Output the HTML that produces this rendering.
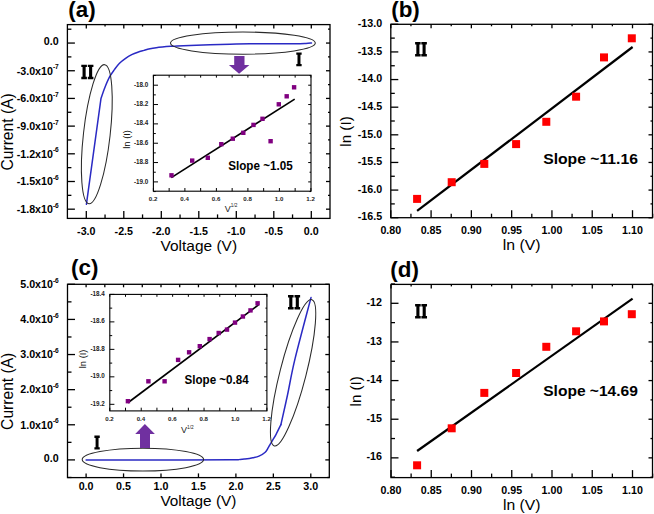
<!DOCTYPE html>
<html><head><meta charset="utf-8"><style>
html,body{margin:0;padding:0;background:#fff;width:654px;height:514px;overflow:hidden}
svg{display:block}
</style></head><body>
<svg width="654" height="514" viewBox="0 0 654 514">
<rect width="654" height="514" fill="#fff"/>
<rect x="67.4" y="24.6" width="262.6" height="193.8" fill="none" stroke="#000" stroke-width="1.3"/>
<line x1="86.3" y1="218.4" x2="86.3" y2="210.9" stroke="#000" stroke-width="1.3"/>
<line x1="86.3" y1="24.6" x2="86.3" y2="28.6" stroke="#000" stroke-width="1.3"/>
<line x1="123.8" y1="218.4" x2="123.8" y2="210.9" stroke="#000" stroke-width="1.3"/>
<line x1="123.8" y1="24.6" x2="123.8" y2="28.6" stroke="#000" stroke-width="1.3"/>
<line x1="161.3" y1="218.4" x2="161.3" y2="210.9" stroke="#000" stroke-width="1.3"/>
<line x1="161.3" y1="24.6" x2="161.3" y2="28.6" stroke="#000" stroke-width="1.3"/>
<line x1="198.8" y1="218.4" x2="198.8" y2="210.9" stroke="#000" stroke-width="1.3"/>
<line x1="198.8" y1="24.6" x2="198.8" y2="28.6" stroke="#000" stroke-width="1.3"/>
<line x1="236.3" y1="218.4" x2="236.3" y2="210.9" stroke="#000" stroke-width="1.3"/>
<line x1="236.3" y1="24.6" x2="236.3" y2="28.6" stroke="#000" stroke-width="1.3"/>
<line x1="273.8" y1="218.4" x2="273.8" y2="210.9" stroke="#000" stroke-width="1.3"/>
<line x1="273.8" y1="24.6" x2="273.8" y2="28.6" stroke="#000" stroke-width="1.3"/>
<line x1="311.3" y1="218.4" x2="311.3" y2="210.9" stroke="#000" stroke-width="1.3"/>
<line x1="311.3" y1="24.6" x2="311.3" y2="28.6" stroke="#000" stroke-width="1.3"/>
<line x1="105.05" y1="218.4" x2="105.05" y2="214.4" stroke="#000" stroke-width="1.3"/>
<line x1="105.05" y1="24.6" x2="105.05" y2="26.6" stroke="#000" stroke-width="1.3"/>
<line x1="142.55" y1="218.4" x2="142.55" y2="214.4" stroke="#000" stroke-width="1.3"/>
<line x1="142.55" y1="24.6" x2="142.55" y2="26.6" stroke="#000" stroke-width="1.3"/>
<line x1="180.05" y1="218.4" x2="180.05" y2="214.4" stroke="#000" stroke-width="1.3"/>
<line x1="180.05" y1="24.6" x2="180.05" y2="26.6" stroke="#000" stroke-width="1.3"/>
<line x1="217.55" y1="218.4" x2="217.55" y2="214.4" stroke="#000" stroke-width="1.3"/>
<line x1="217.55" y1="24.6" x2="217.55" y2="26.6" stroke="#000" stroke-width="1.3"/>
<line x1="255.05" y1="218.4" x2="255.05" y2="214.4" stroke="#000" stroke-width="1.3"/>
<line x1="255.05" y1="24.6" x2="255.05" y2="26.6" stroke="#000" stroke-width="1.3"/>
<line x1="292.55" y1="218.4" x2="292.55" y2="214.4" stroke="#000" stroke-width="1.3"/>
<line x1="292.55" y1="24.6" x2="292.55" y2="26.6" stroke="#000" stroke-width="1.3"/>
<line x1="67.4" y1="43.06" x2="74.9" y2="43.06" stroke="#000" stroke-width="1.3"/>
<line x1="330" y1="43.06" x2="326" y2="43.06" stroke="#000" stroke-width="1.3"/>
<line x1="67.4" y1="70.75" x2="74.9" y2="70.75" stroke="#000" stroke-width="1.3"/>
<line x1="330" y1="70.75" x2="326" y2="70.75" stroke="#000" stroke-width="1.3"/>
<line x1="67.4" y1="98.43" x2="74.9" y2="98.43" stroke="#000" stroke-width="1.3"/>
<line x1="330" y1="98.43" x2="326" y2="98.43" stroke="#000" stroke-width="1.3"/>
<line x1="67.4" y1="126.12" x2="74.9" y2="126.12" stroke="#000" stroke-width="1.3"/>
<line x1="330" y1="126.12" x2="326" y2="126.12" stroke="#000" stroke-width="1.3"/>
<line x1="67.4" y1="153.81" x2="74.9" y2="153.81" stroke="#000" stroke-width="1.3"/>
<line x1="330" y1="153.81" x2="326" y2="153.81" stroke="#000" stroke-width="1.3"/>
<line x1="67.4" y1="181.5" x2="74.9" y2="181.5" stroke="#000" stroke-width="1.3"/>
<line x1="330" y1="181.5" x2="326" y2="181.5" stroke="#000" stroke-width="1.3"/>
<line x1="67.4" y1="209.18" x2="74.9" y2="209.18" stroke="#000" stroke-width="1.3"/>
<line x1="330" y1="209.18" x2="326" y2="209.18" stroke="#000" stroke-width="1.3"/>
<line x1="67.4" y1="29.22" x2="71.4" y2="29.22" stroke="#000" stroke-width="1.3"/>
<line x1="330" y1="29.22" x2="328" y2="29.22" stroke="#000" stroke-width="1.3"/>
<line x1="67.4" y1="56.9" x2="71.4" y2="56.9" stroke="#000" stroke-width="1.3"/>
<line x1="330" y1="56.9" x2="328" y2="56.9" stroke="#000" stroke-width="1.3"/>
<line x1="67.4" y1="84.59" x2="71.4" y2="84.59" stroke="#000" stroke-width="1.3"/>
<line x1="330" y1="84.59" x2="328" y2="84.59" stroke="#000" stroke-width="1.3"/>
<line x1="67.4" y1="112.28" x2="71.4" y2="112.28" stroke="#000" stroke-width="1.3"/>
<line x1="330" y1="112.28" x2="328" y2="112.28" stroke="#000" stroke-width="1.3"/>
<line x1="67.4" y1="139.96" x2="71.4" y2="139.96" stroke="#000" stroke-width="1.3"/>
<line x1="330" y1="139.96" x2="328" y2="139.96" stroke="#000" stroke-width="1.3"/>
<line x1="67.4" y1="167.65" x2="71.4" y2="167.65" stroke="#000" stroke-width="1.3"/>
<line x1="330" y1="167.65" x2="328" y2="167.65" stroke="#000" stroke-width="1.3"/>
<line x1="67.4" y1="195.34" x2="71.4" y2="195.34" stroke="#000" stroke-width="1.3"/>
<line x1="330" y1="195.34" x2="328" y2="195.34" stroke="#000" stroke-width="1.3"/>
<text x="58.6" y="45.06" font-size="10.7" font-family='"Liberation Sans", sans-serif' font-weight="bold" text-anchor="end" fill="#000" >0.0</text>
<text x="58.8" y="74.55" font-size="10.7" font-family='"Liberation Sans", sans-serif' font-weight="bold" text-anchor="end">-3.0x10<tspan font-size="6.6" dy="-5.3">-7</tspan></text>
<text x="58.8" y="102.23" font-size="10.7" font-family='"Liberation Sans", sans-serif' font-weight="bold" text-anchor="end">-6.0x10<tspan font-size="6.6" dy="-5.3">-7</tspan></text>
<text x="58.8" y="129.92" font-size="10.7" font-family='"Liberation Sans", sans-serif' font-weight="bold" text-anchor="end">-9.0x10<tspan font-size="6.6" dy="-5.3">-7</tspan></text>
<text x="58.8" y="157.61" font-size="10.7" font-family='"Liberation Sans", sans-serif' font-weight="bold" text-anchor="end">-1.2x10<tspan font-size="6.6" dy="-5.3">-6</tspan></text>
<text x="58.8" y="185.3" font-size="10.7" font-family='"Liberation Sans", sans-serif' font-weight="bold" text-anchor="end">-1.5x10<tspan font-size="6.6" dy="-5.3">-6</tspan></text>
<text x="58.8" y="212.98" font-size="10.7" font-family='"Liberation Sans", sans-serif' font-weight="bold" text-anchor="end">-1.8x10<tspan font-size="6.6" dy="-5.3">-6</tspan></text>
<text x="86.3" y="234.7" font-size="10.7" font-family='"Liberation Sans", sans-serif' font-weight="bold" text-anchor="middle" fill="#000" >-3.0</text>
<text x="123.8" y="234.7" font-size="10.7" font-family='"Liberation Sans", sans-serif' font-weight="bold" text-anchor="middle" fill="#000" >-2.5</text>
<text x="161.3" y="234.7" font-size="10.7" font-family='"Liberation Sans", sans-serif' font-weight="bold" text-anchor="middle" fill="#000" >-2.0</text>
<text x="198.8" y="234.7" font-size="10.7" font-family='"Liberation Sans", sans-serif' font-weight="bold" text-anchor="middle" fill="#000" >-1.5</text>
<text x="236.3" y="234.7" font-size="10.7" font-family='"Liberation Sans", sans-serif' font-weight="bold" text-anchor="middle" fill="#000" >-1.0</text>
<text x="273.8" y="234.7" font-size="10.7" font-family='"Liberation Sans", sans-serif' font-weight="bold" text-anchor="middle" fill="#000" >-0.5</text>
<text x="311.3" y="234.7" font-size="10.7" font-family='"Liberation Sans", sans-serif' font-weight="bold" text-anchor="middle" fill="#000" >0.0</text>
<text x="198.8" y="251" font-size="15.4" font-family='"Liberation Sans", sans-serif' text-anchor="middle" fill="#000" textLength="76.5" lengthAdjust="spacingAndGlyphs">Voltage (V)</text>
<text transform="translate(12.6,131.9) rotate(-90)" font-size="16" font-family='"Liberation Sans", sans-serif' text-anchor="middle" textLength="77.2" lengthAdjust="spacingAndGlyphs">Current (A)</text>
<text x="68.3" y="16.9" font-size="22.4" font-family='"Liberation Sans", sans-serif' font-weight="bold" text-anchor="start" fill="#000" >(a)</text>
<path d="M86.4,204.3L101,98.4C101.63,96.62 103.35,91.32 104.8,87.7C106.25,84.08 108.07,79.75 109.7,76.7C111.33,73.65 112.97,71.65 114.6,69.4C116.23,67.15 117.67,65.05 119.5,63.2C121.33,61.35 123.57,59.72 125.6,58.3C127.63,56.88 129.67,55.72 131.7,54.7C133.73,53.68 135.77,52.92 137.8,52.2C139.83,51.48 141.87,50.97 143.9,50.4C145.93,49.83 147.95,49.25 150,48.8C152.05,48.35 154.15,48 156.2,47.7C158.25,47.4 159.87,47.23 162.3,47C164.73,46.77 168.32,46.48 170.8,46.3C173.28,46.12 174,46.05 177.2,45.9C180.4,45.75 184.53,45.58 190,45.4C195.47,45.22 203.33,44.98 210,44.8C216.67,44.62 223.33,44.47 230,44.3C236.67,44.13 242.5,43.9 250,43.8C257.5,43.7 266.67,43.73 275,43.7C283.33,43.68 294.83,43.7 300,43.65C305.17,43.6 304.08,43.51 306,43.4C307.92,43.29 310.58,43.07 311.5,43" fill="none" stroke="#2a2ac4" stroke-width="1.5" stroke-linejoin="round" stroke-linecap="round"/>
<ellipse cx="242.9" cy="43.1" rx="72.4" ry="11.1" fill="none" stroke="#2a2a2a" stroke-width="1.05"/>
<ellipse cx="96.81" cy="134.2" rx="13.34" ry="69.99" transform="rotate(6.46 96.81 134.2)" fill="none" stroke="#2a2a2a" stroke-width="1.05"/>
<path d="M81.3,64.7h5.61v2.39h-1.25v9.71h1.25v2.39h-5.61v-2.39h1.25v-9.71h-1.25z M87.81,64.7h5.61v2.39h-1.25v9.71h1.25v2.39h-5.61v-2.39h1.25v-9.71h-1.25z" fill="#000"/>
<path d="M296.3,52.4h5.34v2.28h-1.19v9.25h1.19v2.28h-5.34v-2.28h1.19v-9.25h-1.19z" fill="#000"/>
<path d="M234.2,56.1H244.5V65H249.4L239.1,73.7L228.9,65H234.2Z" fill="#7030a0" stroke="none" stroke-width="1"/>
<rect x="153.4" y="75.2" width="157.6" height="116" fill="#fff" stroke="none"/>
<rect x="153.4" y="75.2" width="157.6" height="116" fill="none" stroke="#000" stroke-width="1.1"/>
<line x1="153.4" y1="191.2" x2="153.4" y2="188" stroke="#000" stroke-width="1.0"/>
<line x1="153.4" y1="75.2" x2="153.4" y2="77.6" stroke="#000" stroke-width="1.0"/>
<line x1="184.9" y1="191.2" x2="184.9" y2="188" stroke="#000" stroke-width="1.0"/>
<line x1="184.9" y1="75.2" x2="184.9" y2="77.6" stroke="#000" stroke-width="1.0"/>
<line x1="216.4" y1="191.2" x2="216.4" y2="188" stroke="#000" stroke-width="1.0"/>
<line x1="216.4" y1="75.2" x2="216.4" y2="77.6" stroke="#000" stroke-width="1.0"/>
<line x1="247.9" y1="191.2" x2="247.9" y2="188" stroke="#000" stroke-width="1.0"/>
<line x1="247.9" y1="75.2" x2="247.9" y2="77.6" stroke="#000" stroke-width="1.0"/>
<line x1="279.4" y1="191.2" x2="279.4" y2="188" stroke="#000" stroke-width="1.0"/>
<line x1="279.4" y1="75.2" x2="279.4" y2="77.6" stroke="#000" stroke-width="1.0"/>
<line x1="310.9" y1="191.2" x2="310.9" y2="188" stroke="#000" stroke-width="1.0"/>
<line x1="310.9" y1="75.2" x2="310.9" y2="77.6" stroke="#000" stroke-width="1.0"/>
<line x1="169.15" y1="191.2" x2="169.15" y2="188" stroke="#000" stroke-width="1.0"/>
<line x1="169.15" y1="75.2" x2="169.15" y2="77.6" stroke="#000" stroke-width="1.0"/>
<line x1="200.65" y1="191.2" x2="200.65" y2="188" stroke="#000" stroke-width="1.0"/>
<line x1="200.65" y1="75.2" x2="200.65" y2="77.6" stroke="#000" stroke-width="1.0"/>
<line x1="232.15" y1="191.2" x2="232.15" y2="188" stroke="#000" stroke-width="1.0"/>
<line x1="232.15" y1="75.2" x2="232.15" y2="77.6" stroke="#000" stroke-width="1.0"/>
<line x1="263.65" y1="191.2" x2="263.65" y2="188" stroke="#000" stroke-width="1.0"/>
<line x1="263.65" y1="75.2" x2="263.65" y2="77.6" stroke="#000" stroke-width="1.0"/>
<line x1="295.15" y1="191.2" x2="295.15" y2="188" stroke="#000" stroke-width="1.0"/>
<line x1="295.15" y1="75.2" x2="295.15" y2="77.6" stroke="#000" stroke-width="1.0"/>
<line x1="153.4" y1="85.2" x2="158" y2="85.2" stroke="#000" stroke-width="1.0"/>
<line x1="311" y1="85.2" x2="308.2" y2="85.2" stroke="#000" stroke-width="1.0"/>
<line x1="153.4" y1="104.54" x2="158" y2="104.54" stroke="#000" stroke-width="1.0"/>
<line x1="311" y1="104.54" x2="308.2" y2="104.54" stroke="#000" stroke-width="1.0"/>
<line x1="153.4" y1="123.88" x2="158" y2="123.88" stroke="#000" stroke-width="1.0"/>
<line x1="311" y1="123.88" x2="308.2" y2="123.88" stroke="#000" stroke-width="1.0"/>
<line x1="153.4" y1="143.22" x2="158" y2="143.22" stroke="#000" stroke-width="1.0"/>
<line x1="311" y1="143.22" x2="308.2" y2="143.22" stroke="#000" stroke-width="1.0"/>
<line x1="153.4" y1="162.56" x2="158" y2="162.56" stroke="#000" stroke-width="1.0"/>
<line x1="311" y1="162.56" x2="308.2" y2="162.56" stroke="#000" stroke-width="1.0"/>
<line x1="153.4" y1="181.9" x2="158" y2="181.9" stroke="#000" stroke-width="1.0"/>
<line x1="311" y1="181.9" x2="308.2" y2="181.9" stroke="#000" stroke-width="1.0"/>
<line x1="153.4" y1="75.53" x2="155.8" y2="75.53" stroke="#000" stroke-width="1.0"/>
<line x1="311" y1="75.53" x2="309.5" y2="75.53" stroke="#000" stroke-width="1.0"/>
<line x1="153.4" y1="94.87" x2="155.8" y2="94.87" stroke="#000" stroke-width="1.0"/>
<line x1="311" y1="94.87" x2="309.5" y2="94.87" stroke="#000" stroke-width="1.0"/>
<line x1="153.4" y1="114.21" x2="155.8" y2="114.21" stroke="#000" stroke-width="1.0"/>
<line x1="311" y1="114.21" x2="309.5" y2="114.21" stroke="#000" stroke-width="1.0"/>
<line x1="153.4" y1="133.55" x2="155.8" y2="133.55" stroke="#000" stroke-width="1.0"/>
<line x1="311" y1="133.55" x2="309.5" y2="133.55" stroke="#000" stroke-width="1.0"/>
<line x1="153.4" y1="152.89" x2="155.8" y2="152.89" stroke="#000" stroke-width="1.0"/>
<line x1="311" y1="152.89" x2="309.5" y2="152.89" stroke="#000" stroke-width="1.0"/>
<line x1="153.4" y1="172.23" x2="155.8" y2="172.23" stroke="#000" stroke-width="1.0"/>
<line x1="311" y1="172.23" x2="309.5" y2="172.23" stroke="#000" stroke-width="1.0"/>
<line x1="153.4" y1="191.57" x2="155.8" y2="191.57" stroke="#000" stroke-width="1.0"/>
<line x1="311" y1="191.57" x2="309.5" y2="191.57" stroke="#000" stroke-width="1.0"/>
<text x="148.3" y="86.8" font-size="6.3" font-family='"Liberation Sans", sans-serif' font-weight="bold" text-anchor="end" fill="#222" >-18.0</text>
<text x="148.3" y="106.14" font-size="6.3" font-family='"Liberation Sans", sans-serif' font-weight="bold" text-anchor="end" fill="#222" >-18.2</text>
<text x="148.3" y="125.48" font-size="6.3" font-family='"Liberation Sans", sans-serif' font-weight="bold" text-anchor="end" fill="#222" >-18.4</text>
<text x="148.3" y="144.82" font-size="6.3" font-family='"Liberation Sans", sans-serif' font-weight="bold" text-anchor="end" fill="#222" >-18.6</text>
<text x="148.3" y="164.16" font-size="6.3" font-family='"Liberation Sans", sans-serif' font-weight="bold" text-anchor="end" fill="#222" >-18.8</text>
<text x="148.3" y="183.5" font-size="6.3" font-family='"Liberation Sans", sans-serif' font-weight="bold" text-anchor="end" fill="#222" >-19.0</text>
<text x="153.1" y="200.9" font-size="6.1" font-family='"Liberation Sans", sans-serif' font-weight="bold" text-anchor="middle" fill="#222" >0.2</text>
<text x="184.6" y="200.9" font-size="6.1" font-family='"Liberation Sans", sans-serif' font-weight="bold" text-anchor="middle" fill="#222" >0.4</text>
<text x="216.1" y="200.9" font-size="6.1" font-family='"Liberation Sans", sans-serif' font-weight="bold" text-anchor="middle" fill="#222" >0.6</text>
<text x="247.6" y="200.9" font-size="6.1" font-family='"Liberation Sans", sans-serif' font-weight="bold" text-anchor="middle" fill="#222" >0.8</text>
<text x="279.1" y="200.9" font-size="6.1" font-family='"Liberation Sans", sans-serif' font-weight="bold" text-anchor="middle" fill="#222" >1.0</text>
<text x="310.6" y="200.9" font-size="6.1" font-family='"Liberation Sans", sans-serif' font-weight="bold" text-anchor="middle" fill="#222" >1.2</text>
<text transform="translate(130.1,139.4) rotate(-90)" font-size="9.4" font-family='"Liberation Sans", sans-serif' text-anchor="middle" fill="#000">ln (I)</text>
<text x="224.8" y="212" font-size="9" font-family='"Liberation Sans", sans-serif' fill="#222">V<tspan font-size="4.8" dy="-4.6">1/2</tspan></text>
<line x1="171.3" y1="177.6" x2="294.7" y2="99.1" stroke="#000" stroke-width="1.7"/>
<rect x="169.3" y="173.1" width="4.4" height="4.4" fill="#800080"/>
<rect x="190" y="158.4" width="4.4" height="4.4" fill="#800080"/>
<rect x="205.6" y="155.6" width="4.4" height="4.4" fill="#800080"/>
<rect x="219.1" y="142" width="4.4" height="4.4" fill="#800080"/>
<rect x="230.6" y="136.5" width="4.4" height="4.4" fill="#800080"/>
<rect x="241.1" y="130.6" width="4.4" height="4.4" fill="#800080"/>
<rect x="251.3" y="122.7" width="4.4" height="4.4" fill="#800080"/>
<rect x="260.3" y="116.6" width="4.4" height="4.4" fill="#800080"/>
<rect x="268.4" y="139" width="4.4" height="4.4" fill="#800080"/>
<rect x="276.6" y="102.1" width="4.4" height="4.4" fill="#800080"/>
<rect x="284.5" y="94.1" width="4.4" height="4.4" fill="#800080"/>
<rect x="291.9" y="85.1" width="4.4" height="4.4" fill="#800080"/>
<text x="228.2" y="170.2" font-size="12" font-family='"Liberation Sans", sans-serif' font-weight="bold" text-anchor="start" fill="#000" textLength="64.5" lengthAdjust="spacingAndGlyphs">Slope ~1.05</text>
<rect x="390.8" y="24.3" width="261.7" height="193.4" fill="none" stroke="#000" stroke-width="1.3"/>
<line x1="390.8" y1="217.7" x2="390.8" y2="210.2" stroke="#000" stroke-width="1.3"/>
<line x1="390.8" y1="24.3" x2="390.8" y2="28.3" stroke="#000" stroke-width="1.3"/>
<line x1="431.09" y1="217.7" x2="431.09" y2="210.2" stroke="#000" stroke-width="1.3"/>
<line x1="431.09" y1="24.3" x2="431.09" y2="28.3" stroke="#000" stroke-width="1.3"/>
<line x1="471.37" y1="217.7" x2="471.37" y2="210.2" stroke="#000" stroke-width="1.3"/>
<line x1="471.37" y1="24.3" x2="471.37" y2="28.3" stroke="#000" stroke-width="1.3"/>
<line x1="511.66" y1="217.7" x2="511.66" y2="210.2" stroke="#000" stroke-width="1.3"/>
<line x1="511.66" y1="24.3" x2="511.66" y2="28.3" stroke="#000" stroke-width="1.3"/>
<line x1="551.94" y1="217.7" x2="551.94" y2="210.2" stroke="#000" stroke-width="1.3"/>
<line x1="551.94" y1="24.3" x2="551.94" y2="28.3" stroke="#000" stroke-width="1.3"/>
<line x1="592.23" y1="217.7" x2="592.23" y2="210.2" stroke="#000" stroke-width="1.3"/>
<line x1="592.23" y1="24.3" x2="592.23" y2="28.3" stroke="#000" stroke-width="1.3"/>
<line x1="632.51" y1="217.7" x2="632.51" y2="210.2" stroke="#000" stroke-width="1.3"/>
<line x1="632.51" y1="24.3" x2="632.51" y2="28.3" stroke="#000" stroke-width="1.3"/>
<line x1="410.94" y1="217.7" x2="410.94" y2="213.7" stroke="#000" stroke-width="1.3"/>
<line x1="410.94" y1="24.3" x2="410.94" y2="26.3" stroke="#000" stroke-width="1.3"/>
<line x1="451.23" y1="217.7" x2="451.23" y2="213.7" stroke="#000" stroke-width="1.3"/>
<line x1="451.23" y1="24.3" x2="451.23" y2="26.3" stroke="#000" stroke-width="1.3"/>
<line x1="491.51" y1="217.7" x2="491.51" y2="213.7" stroke="#000" stroke-width="1.3"/>
<line x1="491.51" y1="24.3" x2="491.51" y2="26.3" stroke="#000" stroke-width="1.3"/>
<line x1="531.8" y1="217.7" x2="531.8" y2="213.7" stroke="#000" stroke-width="1.3"/>
<line x1="531.8" y1="24.3" x2="531.8" y2="26.3" stroke="#000" stroke-width="1.3"/>
<line x1="572.08" y1="217.7" x2="572.08" y2="213.7" stroke="#000" stroke-width="1.3"/>
<line x1="572.08" y1="24.3" x2="572.08" y2="26.3" stroke="#000" stroke-width="1.3"/>
<line x1="612.37" y1="217.7" x2="612.37" y2="213.7" stroke="#000" stroke-width="1.3"/>
<line x1="612.37" y1="24.3" x2="612.37" y2="26.3" stroke="#000" stroke-width="1.3"/>
<line x1="652.65" y1="217.7" x2="652.65" y2="213.7" stroke="#000" stroke-width="1.3"/>
<line x1="652.65" y1="24.3" x2="652.65" y2="26.3" stroke="#000" stroke-width="1.3"/>
<line x1="390.8" y1="24.3" x2="398.3" y2="24.3" stroke="#000" stroke-width="1.3"/>
<line x1="652.5" y1="24.3" x2="648.5" y2="24.3" stroke="#000" stroke-width="1.3"/>
<line x1="390.8" y1="51.93" x2="398.3" y2="51.93" stroke="#000" stroke-width="1.3"/>
<line x1="652.5" y1="51.93" x2="648.5" y2="51.93" stroke="#000" stroke-width="1.3"/>
<line x1="390.8" y1="79.56" x2="398.3" y2="79.56" stroke="#000" stroke-width="1.3"/>
<line x1="652.5" y1="79.56" x2="648.5" y2="79.56" stroke="#000" stroke-width="1.3"/>
<line x1="390.8" y1="107.19" x2="398.3" y2="107.19" stroke="#000" stroke-width="1.3"/>
<line x1="652.5" y1="107.19" x2="648.5" y2="107.19" stroke="#000" stroke-width="1.3"/>
<line x1="390.8" y1="134.82" x2="398.3" y2="134.82" stroke="#000" stroke-width="1.3"/>
<line x1="652.5" y1="134.82" x2="648.5" y2="134.82" stroke="#000" stroke-width="1.3"/>
<line x1="390.8" y1="162.45" x2="398.3" y2="162.45" stroke="#000" stroke-width="1.3"/>
<line x1="652.5" y1="162.45" x2="648.5" y2="162.45" stroke="#000" stroke-width="1.3"/>
<line x1="390.8" y1="190.08" x2="398.3" y2="190.08" stroke="#000" stroke-width="1.3"/>
<line x1="652.5" y1="190.08" x2="648.5" y2="190.08" stroke="#000" stroke-width="1.3"/>
<line x1="390.8" y1="217.71" x2="398.3" y2="217.71" stroke="#000" stroke-width="1.3"/>
<line x1="652.5" y1="217.71" x2="648.5" y2="217.71" stroke="#000" stroke-width="1.3"/>
<line x1="390.8" y1="38.12" x2="394.8" y2="38.12" stroke="#000" stroke-width="1.3"/>
<line x1="652.5" y1="38.12" x2="650.5" y2="38.12" stroke="#000" stroke-width="1.3"/>
<line x1="390.8" y1="65.75" x2="394.8" y2="65.75" stroke="#000" stroke-width="1.3"/>
<line x1="652.5" y1="65.75" x2="650.5" y2="65.75" stroke="#000" stroke-width="1.3"/>
<line x1="390.8" y1="93.38" x2="394.8" y2="93.38" stroke="#000" stroke-width="1.3"/>
<line x1="652.5" y1="93.38" x2="650.5" y2="93.38" stroke="#000" stroke-width="1.3"/>
<line x1="390.8" y1="121" x2="394.8" y2="121" stroke="#000" stroke-width="1.3"/>
<line x1="652.5" y1="121" x2="650.5" y2="121" stroke="#000" stroke-width="1.3"/>
<line x1="390.8" y1="148.63" x2="394.8" y2="148.63" stroke="#000" stroke-width="1.3"/>
<line x1="652.5" y1="148.63" x2="650.5" y2="148.63" stroke="#000" stroke-width="1.3"/>
<line x1="390.8" y1="176.27" x2="394.8" y2="176.27" stroke="#000" stroke-width="1.3"/>
<line x1="652.5" y1="176.27" x2="650.5" y2="176.27" stroke="#000" stroke-width="1.3"/>
<line x1="390.8" y1="203.9" x2="394.8" y2="203.9" stroke="#000" stroke-width="1.3"/>
<line x1="652.5" y1="203.9" x2="650.5" y2="203.9" stroke="#000" stroke-width="1.3"/>
<text x="382.2" y="27" font-size="10.7" font-family='"Liberation Sans", sans-serif' font-weight="bold" text-anchor="end" fill="#000" >-13.0</text>
<text x="382.2" y="54.63" font-size="10.7" font-family='"Liberation Sans", sans-serif' font-weight="bold" text-anchor="end" fill="#000" >-13.5</text>
<text x="382.2" y="82.26" font-size="10.7" font-family='"Liberation Sans", sans-serif' font-weight="bold" text-anchor="end" fill="#000" >-14.0</text>
<text x="382.2" y="109.89" font-size="10.7" font-family='"Liberation Sans", sans-serif' font-weight="bold" text-anchor="end" fill="#000" >-14.5</text>
<text x="382.2" y="137.52" font-size="10.7" font-family='"Liberation Sans", sans-serif' font-weight="bold" text-anchor="end" fill="#000" >-15.0</text>
<text x="382.2" y="165.15" font-size="10.7" font-family='"Liberation Sans", sans-serif' font-weight="bold" text-anchor="end" fill="#000" >-15.5</text>
<text x="382.2" y="192.78" font-size="10.7" font-family='"Liberation Sans", sans-serif' font-weight="bold" text-anchor="end" fill="#000" >-16.0</text>
<text x="382.2" y="220.41" font-size="10.7" font-family='"Liberation Sans", sans-serif' font-weight="bold" text-anchor="end" fill="#000" >-16.5</text>
<text x="390.8" y="233.6" font-size="10.7" font-family='"Liberation Sans", sans-serif' font-weight="bold" text-anchor="middle" fill="#000" >0.80</text>
<text x="431.09" y="233.6" font-size="10.7" font-family='"Liberation Sans", sans-serif' font-weight="bold" text-anchor="middle" fill="#000" >0.85</text>
<text x="471.37" y="233.6" font-size="10.7" font-family='"Liberation Sans", sans-serif' font-weight="bold" text-anchor="middle" fill="#000" >0.90</text>
<text x="511.66" y="233.6" font-size="10.7" font-family='"Liberation Sans", sans-serif' font-weight="bold" text-anchor="middle" fill="#000" >0.95</text>
<text x="551.94" y="233.6" font-size="10.7" font-family='"Liberation Sans", sans-serif' font-weight="bold" text-anchor="middle" fill="#000" >1.00</text>
<text x="592.23" y="233.6" font-size="10.7" font-family='"Liberation Sans", sans-serif' font-weight="bold" text-anchor="middle" fill="#000" >1.05</text>
<text x="632.51" y="233.6" font-size="10.7" font-family='"Liberation Sans", sans-serif' font-weight="bold" text-anchor="middle" fill="#000" >1.10</text>
<text x="521.7" y="249.7" font-size="15.4" font-family='"Liberation Sans", sans-serif' text-anchor="middle" fill="#000" textLength="37.8" lengthAdjust="spacingAndGlyphs">ln (V)</text>
<text transform="translate(351.4,131.5) rotate(-90)" font-size="15.2" font-family='"Liberation Sans", sans-serif' text-anchor="middle">ln (I)</text>
<text x="391.2" y="16.7" font-size="22.4" font-family='"Liberation Sans", sans-serif' font-weight="bold" text-anchor="start" fill="#000" >(b)</text>
<path d="M415.1,42.1h5.53v2.36h-1.23v9.58h1.23v2.36h-5.53v-2.36h1.23v-9.58h-1.23z M421.33,42.1h5.53v2.36h-1.23v9.58h1.23v2.36h-5.53v-2.36h1.23v-9.58h-1.23z" fill="#000"/>
<line x1="417.1" y1="210.9" x2="632.6" y2="47" stroke="#000" stroke-width="2.2"/>
<rect x="413.1" y="194.9" width="8" height="8" fill="#ff0000"/>
<rect x="447.7" y="178.2" width="8" height="8" fill="#ff0000"/>
<rect x="480.3" y="159.9" width="8" height="8" fill="#ff0000"/>
<rect x="512.1" y="140.1" width="8" height="8" fill="#ff0000"/>
<rect x="542.3" y="117.8" width="8" height="8" fill="#ff0000"/>
<rect x="572.1" y="92.7" width="8" height="8" fill="#ff0000"/>
<rect x="600" y="53.4" width="8" height="8" fill="#ff0000"/>
<rect x="627.8" y="34.3" width="8" height="8" fill="#ff0000"/>
<text x="543.2" y="164" font-size="14.5" font-family='"Liberation Sans", sans-serif' font-weight="bold" text-anchor="start" fill="#000" textLength="94.7" lengthAdjust="spacingAndGlyphs">Slope ~11.16</text>
<rect x="67.5" y="284.3" width="261.8" height="193.3" fill="none" stroke="#000" stroke-width="1.3"/>
<line x1="86.1" y1="477.6" x2="86.1" y2="473.4" stroke="#000" stroke-width="1.3"/>
<line x1="86.1" y1="284.3" x2="86.1" y2="287.3" stroke="#000" stroke-width="1.3"/>
<line x1="123.55" y1="477.6" x2="123.55" y2="473.4" stroke="#000" stroke-width="1.3"/>
<line x1="123.55" y1="284.3" x2="123.55" y2="287.3" stroke="#000" stroke-width="1.3"/>
<line x1="161" y1="477.6" x2="161" y2="473.4" stroke="#000" stroke-width="1.3"/>
<line x1="161" y1="284.3" x2="161" y2="287.3" stroke="#000" stroke-width="1.3"/>
<line x1="198.45" y1="477.6" x2="198.45" y2="473.4" stroke="#000" stroke-width="1.3"/>
<line x1="198.45" y1="284.3" x2="198.45" y2="287.3" stroke="#000" stroke-width="1.3"/>
<line x1="235.9" y1="477.6" x2="235.9" y2="473.4" stroke="#000" stroke-width="1.3"/>
<line x1="235.9" y1="284.3" x2="235.9" y2="287.3" stroke="#000" stroke-width="1.3"/>
<line x1="273.35" y1="477.6" x2="273.35" y2="473.4" stroke="#000" stroke-width="1.3"/>
<line x1="273.35" y1="284.3" x2="273.35" y2="287.3" stroke="#000" stroke-width="1.3"/>
<line x1="310.8" y1="477.6" x2="310.8" y2="473.4" stroke="#000" stroke-width="1.3"/>
<line x1="310.8" y1="284.3" x2="310.8" y2="287.3" stroke="#000" stroke-width="1.3"/>
<line x1="104.82" y1="284.3" x2="104.82" y2="287.3" stroke="#000" stroke-width="1.3"/>
<line x1="142.28" y1="284.3" x2="142.28" y2="287.3" stroke="#000" stroke-width="1.3"/>
<line x1="179.72" y1="284.3" x2="179.72" y2="287.3" stroke="#000" stroke-width="1.3"/>
<line x1="217.18" y1="284.3" x2="217.18" y2="287.3" stroke="#000" stroke-width="1.3"/>
<line x1="254.62" y1="284.3" x2="254.62" y2="287.3" stroke="#000" stroke-width="1.3"/>
<line x1="292.08" y1="284.3" x2="292.08" y2="287.3" stroke="#000" stroke-width="1.3"/>
<line x1="67.5" y1="459.9" x2="75" y2="459.9" stroke="#000" stroke-width="1.3"/>
<line x1="329.3" y1="459.9" x2="325.3" y2="459.9" stroke="#000" stroke-width="1.3"/>
<line x1="67.5" y1="424.78" x2="75" y2="424.78" stroke="#000" stroke-width="1.3"/>
<line x1="329.3" y1="424.78" x2="325.3" y2="424.78" stroke="#000" stroke-width="1.3"/>
<line x1="67.5" y1="389.66" x2="75" y2="389.66" stroke="#000" stroke-width="1.3"/>
<line x1="329.3" y1="389.66" x2="325.3" y2="389.66" stroke="#000" stroke-width="1.3"/>
<line x1="67.5" y1="354.54" x2="75" y2="354.54" stroke="#000" stroke-width="1.3"/>
<line x1="329.3" y1="354.54" x2="325.3" y2="354.54" stroke="#000" stroke-width="1.3"/>
<line x1="67.5" y1="319.42" x2="75" y2="319.42" stroke="#000" stroke-width="1.3"/>
<line x1="329.3" y1="319.42" x2="325.3" y2="319.42" stroke="#000" stroke-width="1.3"/>
<line x1="67.5" y1="284.3" x2="75" y2="284.3" stroke="#000" stroke-width="1.3"/>
<line x1="329.3" y1="284.3" x2="325.3" y2="284.3" stroke="#000" stroke-width="1.3"/>
<line x1="67.5" y1="442.34" x2="71.5" y2="442.34" stroke="#000" stroke-width="1.3"/>
<line x1="329.3" y1="442.34" x2="327.3" y2="442.34" stroke="#000" stroke-width="1.3"/>
<line x1="67.5" y1="407.22" x2="71.5" y2="407.22" stroke="#000" stroke-width="1.3"/>
<line x1="329.3" y1="407.22" x2="327.3" y2="407.22" stroke="#000" stroke-width="1.3"/>
<line x1="67.5" y1="372.1" x2="71.5" y2="372.1" stroke="#000" stroke-width="1.3"/>
<line x1="329.3" y1="372.1" x2="327.3" y2="372.1" stroke="#000" stroke-width="1.3"/>
<line x1="67.5" y1="336.98" x2="71.5" y2="336.98" stroke="#000" stroke-width="1.3"/>
<line x1="329.3" y1="336.98" x2="327.3" y2="336.98" stroke="#000" stroke-width="1.3"/>
<line x1="67.5" y1="301.86" x2="71.5" y2="301.86" stroke="#000" stroke-width="1.3"/>
<line x1="329.3" y1="301.86" x2="327.3" y2="301.86" stroke="#000" stroke-width="1.3"/>
<line x1="67.5" y1="477.46" x2="71.5" y2="477.46" stroke="#000" stroke-width="1.3"/>
<line x1="329.3" y1="477.46" x2="327.3" y2="477.46" stroke="#000" stroke-width="1.3"/>
<text x="58.6" y="462.1" font-size="10.7" font-family='"Liberation Sans", sans-serif' font-weight="bold" text-anchor="end" fill="#000" >0.0</text>
<text x="58.8" y="428.58" font-size="10.7" font-family='"Liberation Sans", sans-serif' font-weight="bold" text-anchor="end">1.0x10<tspan font-size="6.6" dy="-5.3">-6</tspan></text>
<text x="58.8" y="393.46" font-size="10.7" font-family='"Liberation Sans", sans-serif' font-weight="bold" text-anchor="end">2.0x10<tspan font-size="6.6" dy="-5.3">-6</tspan></text>
<text x="58.8" y="358.34" font-size="10.7" font-family='"Liberation Sans", sans-serif' font-weight="bold" text-anchor="end">3.0x10<tspan font-size="6.6" dy="-5.3">-6</tspan></text>
<text x="58.8" y="323.22" font-size="10.7" font-family='"Liberation Sans", sans-serif' font-weight="bold" text-anchor="end">4.0x10<tspan font-size="6.6" dy="-5.3">-6</tspan></text>
<text x="58.8" y="288.1" font-size="10.7" font-family='"Liberation Sans", sans-serif' font-weight="bold" text-anchor="end">5.0x10<tspan font-size="6.6" dy="-5.3">-6</tspan></text>
<text x="86.1" y="489.8" font-size="10.7" font-family='"Liberation Sans", sans-serif' font-weight="bold" text-anchor="middle" fill="#000" >0.0</text>
<text x="123.55" y="489.8" font-size="10.7" font-family='"Liberation Sans", sans-serif' font-weight="bold" text-anchor="middle" fill="#000" >0.5</text>
<text x="161" y="489.8" font-size="10.7" font-family='"Liberation Sans", sans-serif' font-weight="bold" text-anchor="middle" fill="#000" >1.0</text>
<text x="198.45" y="489.8" font-size="10.7" font-family='"Liberation Sans", sans-serif' font-weight="bold" text-anchor="middle" fill="#000" >1.5</text>
<text x="235.9" y="489.8" font-size="10.7" font-family='"Liberation Sans", sans-serif' font-weight="bold" text-anchor="middle" fill="#000" >2.0</text>
<text x="273.35" y="489.8" font-size="10.7" font-family='"Liberation Sans", sans-serif' font-weight="bold" text-anchor="middle" fill="#000" >2.5</text>
<text x="310.8" y="489.8" font-size="10.7" font-family='"Liberation Sans", sans-serif' font-weight="bold" text-anchor="middle" fill="#000" >3.0</text>
<text x="198.4" y="506.3" font-size="15.4" font-family='"Liberation Sans", sans-serif' text-anchor="middle" fill="#000" textLength="76" lengthAdjust="spacingAndGlyphs">Voltage (V)</text>
<text transform="translate(12.6,391.3) rotate(-90)" font-size="16" font-family='"Liberation Sans", sans-serif' text-anchor="middle" textLength="77.2" lengthAdjust="spacingAndGlyphs">Current (A)</text>
<text x="71" y="274.9" font-size="22.4" font-family='"Liberation Sans", sans-serif' font-weight="bold" text-anchor="start" fill="#000" >(c)</text>
<path d="M86.1,459.9C98.42,459.9 136.02,459.92 160,459.9C183.98,459.88 216.65,459.87 230,459.8C243.35,459.73 237.6,459.63 240.1,459.5C242.6,459.37 242.88,459.3 245,459C247.12,458.7 250.47,458.18 252.8,457.7C255.13,457.22 256.93,457.02 259,456.1C261.07,455.18 263.65,453.62 265.2,452.2C266.75,450.78 267.25,449.28 268.3,447.6C269.35,445.92 270.2,444.32 271.5,442.1C272.8,439.88 274.53,437.22 276.1,434.3C277.67,431.38 280.1,426.22 280.9,424.6" fill="none" stroke="#2a2ac4" stroke-width="1.5" stroke-linejoin="round" stroke-linecap="round"/>
<path d="M280.9,424.6C282,419.67 285.15,405.95 287.5,395C289.85,384.05 291.08,375.13 295,358.9C298.92,342.67 308.33,307.82 311,297.6" fill="none" stroke="#2a2ac4" stroke-width="1.5" stroke-linejoin="round" stroke-linecap="round"/>
<ellipse cx="142.9" cy="459.6" rx="60.7" ry="11.4" fill="none" stroke="#2a2a2a" stroke-width="1.05"/>
<ellipse cx="293.1" cy="372.8" rx="13.1" ry="75.5" transform="rotate(14.38 293.1 372.8)" fill="none" stroke="#2a2a2a" stroke-width="1.05"/>
<path d="M288,295h5.61v2.39h-1.25v9.71h1.25v2.39h-5.61v-2.39h1.25v-9.71h-1.25z M294.51,295h5.61v2.39h-1.25v9.71h1.25v2.39h-5.61v-2.39h1.25v-9.71h-1.25z" fill="#000"/>
<path d="M94.4,435.6h5.34v2.28h-1.19v9.25h1.19v2.28h-5.34v-2.28h1.19v-9.25h-1.19z" fill="#000"/>
<path d="M140,448V434H135.2L144.9,423.9L154.9,434H150V448Z" fill="#7030a0" stroke="none" stroke-width="1"/>
<rect x="109.8" y="294.4" width="157.1" height="116.5" fill="#fff" stroke="none"/>
<rect x="109.8" y="294.4" width="157.1" height="116.5" fill="none" stroke="#000" stroke-width="1.1"/>
<line x1="109.8" y1="410.9" x2="109.8" y2="407.7" stroke="#000" stroke-width="1.0"/>
<line x1="109.8" y1="294.4" x2="109.8" y2="296.8" stroke="#000" stroke-width="1.0"/>
<line x1="141.22" y1="410.9" x2="141.22" y2="407.7" stroke="#000" stroke-width="1.0"/>
<line x1="141.22" y1="294.4" x2="141.22" y2="296.8" stroke="#000" stroke-width="1.0"/>
<line x1="172.64" y1="410.9" x2="172.64" y2="407.7" stroke="#000" stroke-width="1.0"/>
<line x1="172.64" y1="294.4" x2="172.64" y2="296.8" stroke="#000" stroke-width="1.0"/>
<line x1="204.06" y1="410.9" x2="204.06" y2="407.7" stroke="#000" stroke-width="1.0"/>
<line x1="204.06" y1="294.4" x2="204.06" y2="296.8" stroke="#000" stroke-width="1.0"/>
<line x1="235.48" y1="410.9" x2="235.48" y2="407.7" stroke="#000" stroke-width="1.0"/>
<line x1="235.48" y1="294.4" x2="235.48" y2="296.8" stroke="#000" stroke-width="1.0"/>
<line x1="266.9" y1="410.9" x2="266.9" y2="407.7" stroke="#000" stroke-width="1.0"/>
<line x1="266.9" y1="294.4" x2="266.9" y2="296.8" stroke="#000" stroke-width="1.0"/>
<line x1="125.51" y1="410.9" x2="125.51" y2="407.7" stroke="#000" stroke-width="1.0"/>
<line x1="125.51" y1="294.4" x2="125.51" y2="296.8" stroke="#000" stroke-width="1.0"/>
<line x1="156.93" y1="410.9" x2="156.93" y2="407.7" stroke="#000" stroke-width="1.0"/>
<line x1="156.93" y1="294.4" x2="156.93" y2="296.8" stroke="#000" stroke-width="1.0"/>
<line x1="188.35" y1="410.9" x2="188.35" y2="407.7" stroke="#000" stroke-width="1.0"/>
<line x1="188.35" y1="294.4" x2="188.35" y2="296.8" stroke="#000" stroke-width="1.0"/>
<line x1="219.77" y1="410.9" x2="219.77" y2="407.7" stroke="#000" stroke-width="1.0"/>
<line x1="219.77" y1="294.4" x2="219.77" y2="296.8" stroke="#000" stroke-width="1.0"/>
<line x1="251.19" y1="410.9" x2="251.19" y2="407.7" stroke="#000" stroke-width="1.0"/>
<line x1="251.19" y1="294.4" x2="251.19" y2="296.8" stroke="#000" stroke-width="1.0"/>
<line x1="109.8" y1="294.4" x2="114.4" y2="294.4" stroke="#000" stroke-width="1.0"/>
<line x1="266.9" y1="294.4" x2="264.1" y2="294.4" stroke="#000" stroke-width="1.0"/>
<line x1="109.8" y1="321.88" x2="114.4" y2="321.88" stroke="#000" stroke-width="1.0"/>
<line x1="266.9" y1="321.88" x2="264.1" y2="321.88" stroke="#000" stroke-width="1.0"/>
<line x1="109.8" y1="349.36" x2="114.4" y2="349.36" stroke="#000" stroke-width="1.0"/>
<line x1="266.9" y1="349.36" x2="264.1" y2="349.36" stroke="#000" stroke-width="1.0"/>
<line x1="109.8" y1="376.84" x2="114.4" y2="376.84" stroke="#000" stroke-width="1.0"/>
<line x1="266.9" y1="376.84" x2="264.1" y2="376.84" stroke="#000" stroke-width="1.0"/>
<line x1="109.8" y1="404.32" x2="114.4" y2="404.32" stroke="#000" stroke-width="1.0"/>
<line x1="266.9" y1="404.32" x2="264.1" y2="404.32" stroke="#000" stroke-width="1.0"/>
<line x1="109.8" y1="308.14" x2="112.2" y2="308.14" stroke="#000" stroke-width="1.0"/>
<line x1="266.9" y1="308.14" x2="265.4" y2="308.14" stroke="#000" stroke-width="1.0"/>
<line x1="109.8" y1="335.62" x2="112.2" y2="335.62" stroke="#000" stroke-width="1.0"/>
<line x1="266.9" y1="335.62" x2="265.4" y2="335.62" stroke="#000" stroke-width="1.0"/>
<line x1="109.8" y1="363.1" x2="112.2" y2="363.1" stroke="#000" stroke-width="1.0"/>
<line x1="266.9" y1="363.1" x2="265.4" y2="363.1" stroke="#000" stroke-width="1.0"/>
<line x1="109.8" y1="390.58" x2="112.2" y2="390.58" stroke="#000" stroke-width="1.0"/>
<line x1="266.9" y1="390.58" x2="265.4" y2="390.58" stroke="#000" stroke-width="1.0"/>
<text x="104.8" y="296" font-size="6.3" font-family='"Liberation Sans", sans-serif' font-weight="bold" text-anchor="end" fill="#222" >-18.4</text>
<text x="104.8" y="323.48" font-size="6.3" font-family='"Liberation Sans", sans-serif' font-weight="bold" text-anchor="end" fill="#222" >-18.6</text>
<text x="104.8" y="350.96" font-size="6.3" font-family='"Liberation Sans", sans-serif' font-weight="bold" text-anchor="end" fill="#222" >-18.8</text>
<text x="104.8" y="378.44" font-size="6.3" font-family='"Liberation Sans", sans-serif' font-weight="bold" text-anchor="end" fill="#222" >-19.0</text>
<text x="104.8" y="405.92" font-size="6.3" font-family='"Liberation Sans", sans-serif' font-weight="bold" text-anchor="end" fill="#222" >-19.2</text>
<text x="109.5" y="420.9" font-size="6.1" font-family='"Liberation Sans", sans-serif' font-weight="bold" text-anchor="middle" fill="#222" >0.2</text>
<text x="140.92" y="420.9" font-size="6.1" font-family='"Liberation Sans", sans-serif' font-weight="bold" text-anchor="middle" fill="#222" >0.4</text>
<text x="172.34" y="420.9" font-size="6.1" font-family='"Liberation Sans", sans-serif' font-weight="bold" text-anchor="middle" fill="#222" >0.6</text>
<text x="203.76" y="420.9" font-size="6.1" font-family='"Liberation Sans", sans-serif' font-weight="bold" text-anchor="middle" fill="#222" >0.8</text>
<text x="235.18" y="420.9" font-size="6.1" font-family='"Liberation Sans", sans-serif' font-weight="bold" text-anchor="middle" fill="#222" >1.0</text>
<text x="266.6" y="420.9" font-size="6.1" font-family='"Liberation Sans", sans-serif' font-weight="bold" text-anchor="middle" fill="#222" >1.2</text>
<text transform="translate(85.7,358.9) rotate(-90)" font-size="9.4" font-family='"Liberation Sans", sans-serif' text-anchor="middle" fill="#000">ln (I)</text>
<text x="181.1" y="433.3" font-size="9" font-family='"Liberation Sans", sans-serif' fill="#222">V<tspan font-size="4.8" dy="-4.6">1/2</tspan></text>
<line x1="127.9" y1="402.7" x2="258.5" y2="304.9" stroke="#000" stroke-width="1.7"/>
<rect x="125.7" y="399" width="4.4" height="4.4" fill="#800080"/>
<rect x="146.2" y="379.1" width="4.4" height="4.4" fill="#800080"/>
<rect x="162.4" y="379.1" width="4.4" height="4.4" fill="#800080"/>
<rect x="175.9" y="357.7" width="4.4" height="4.4" fill="#800080"/>
<rect x="186.9" y="350.1" width="4.4" height="4.4" fill="#800080"/>
<rect x="197.6" y="344" width="4.4" height="4.4" fill="#800080"/>
<rect x="207.4" y="336.9" width="4.4" height="4.4" fill="#800080"/>
<rect x="216.5" y="330.8" width="4.4" height="4.4" fill="#800080"/>
<rect x="224.8" y="327.4" width="4.4" height="4.4" fill="#800080"/>
<rect x="232.8" y="320.4" width="4.4" height="4.4" fill="#800080"/>
<rect x="240.7" y="314.3" width="4.4" height="4.4" fill="#800080"/>
<rect x="248.3" y="308.2" width="4.4" height="4.4" fill="#800080"/>
<rect x="255.4" y="301.1" width="4.4" height="4.4" fill="#800080"/>
<text x="184.5" y="384.4" font-size="12" font-family='"Liberation Sans", sans-serif' font-weight="bold" text-anchor="start" fill="#000" textLength="64.2" lengthAdjust="spacingAndGlyphs">Slope ~0.84</text>
<rect x="391" y="284.4" width="261.5" height="193.2" fill="none" stroke="#000" stroke-width="1.3"/>
<line x1="391" y1="477.6" x2="391" y2="470.1" stroke="#000" stroke-width="1.3"/>
<line x1="391" y1="284.4" x2="391" y2="288.4" stroke="#000" stroke-width="1.3"/>
<line x1="431.25" y1="477.6" x2="431.25" y2="470.1" stroke="#000" stroke-width="1.3"/>
<line x1="431.25" y1="284.4" x2="431.25" y2="288.4" stroke="#000" stroke-width="1.3"/>
<line x1="471.5" y1="477.6" x2="471.5" y2="470.1" stroke="#000" stroke-width="1.3"/>
<line x1="471.5" y1="284.4" x2="471.5" y2="288.4" stroke="#000" stroke-width="1.3"/>
<line x1="511.75" y1="477.6" x2="511.75" y2="470.1" stroke="#000" stroke-width="1.3"/>
<line x1="511.75" y1="284.4" x2="511.75" y2="288.4" stroke="#000" stroke-width="1.3"/>
<line x1="552" y1="477.6" x2="552" y2="470.1" stroke="#000" stroke-width="1.3"/>
<line x1="552" y1="284.4" x2="552" y2="288.4" stroke="#000" stroke-width="1.3"/>
<line x1="592.25" y1="477.6" x2="592.25" y2="470.1" stroke="#000" stroke-width="1.3"/>
<line x1="592.25" y1="284.4" x2="592.25" y2="288.4" stroke="#000" stroke-width="1.3"/>
<line x1="632.5" y1="477.6" x2="632.5" y2="470.1" stroke="#000" stroke-width="1.3"/>
<line x1="632.5" y1="284.4" x2="632.5" y2="288.4" stroke="#000" stroke-width="1.3"/>
<line x1="411.12" y1="477.6" x2="411.12" y2="473.6" stroke="#000" stroke-width="1.3"/>
<line x1="411.12" y1="284.4" x2="411.12" y2="286.4" stroke="#000" stroke-width="1.3"/>
<line x1="451.37" y1="477.6" x2="451.37" y2="473.6" stroke="#000" stroke-width="1.3"/>
<line x1="451.37" y1="284.4" x2="451.37" y2="286.4" stroke="#000" stroke-width="1.3"/>
<line x1="491.62" y1="477.6" x2="491.62" y2="473.6" stroke="#000" stroke-width="1.3"/>
<line x1="491.62" y1="284.4" x2="491.62" y2="286.4" stroke="#000" stroke-width="1.3"/>
<line x1="531.88" y1="477.6" x2="531.88" y2="473.6" stroke="#000" stroke-width="1.3"/>
<line x1="531.88" y1="284.4" x2="531.88" y2="286.4" stroke="#000" stroke-width="1.3"/>
<line x1="572.12" y1="477.6" x2="572.12" y2="473.6" stroke="#000" stroke-width="1.3"/>
<line x1="572.12" y1="284.4" x2="572.12" y2="286.4" stroke="#000" stroke-width="1.3"/>
<line x1="612.37" y1="477.6" x2="612.37" y2="473.6" stroke="#000" stroke-width="1.3"/>
<line x1="612.37" y1="284.4" x2="612.37" y2="286.4" stroke="#000" stroke-width="1.3"/>
<line x1="652.62" y1="477.6" x2="652.62" y2="473.6" stroke="#000" stroke-width="1.3"/>
<line x1="652.62" y1="284.4" x2="652.62" y2="286.4" stroke="#000" stroke-width="1.3"/>
<line x1="391" y1="303.3" x2="398.5" y2="303.3" stroke="#000" stroke-width="1.3"/>
<line x1="652.5" y1="303.3" x2="648.5" y2="303.3" stroke="#000" stroke-width="1.3"/>
<line x1="391" y1="341.94" x2="398.5" y2="341.94" stroke="#000" stroke-width="1.3"/>
<line x1="652.5" y1="341.94" x2="648.5" y2="341.94" stroke="#000" stroke-width="1.3"/>
<line x1="391" y1="380.58" x2="398.5" y2="380.58" stroke="#000" stroke-width="1.3"/>
<line x1="652.5" y1="380.58" x2="648.5" y2="380.58" stroke="#000" stroke-width="1.3"/>
<line x1="391" y1="419.22" x2="398.5" y2="419.22" stroke="#000" stroke-width="1.3"/>
<line x1="652.5" y1="419.22" x2="648.5" y2="419.22" stroke="#000" stroke-width="1.3"/>
<line x1="391" y1="457.86" x2="398.5" y2="457.86" stroke="#000" stroke-width="1.3"/>
<line x1="652.5" y1="457.86" x2="648.5" y2="457.86" stroke="#000" stroke-width="1.3"/>
<line x1="391" y1="283.98" x2="395" y2="283.98" stroke="#000" stroke-width="1.3"/>
<line x1="652.5" y1="283.98" x2="650.5" y2="283.98" stroke="#000" stroke-width="1.3"/>
<line x1="391" y1="322.62" x2="395" y2="322.62" stroke="#000" stroke-width="1.3"/>
<line x1="652.5" y1="322.62" x2="650.5" y2="322.62" stroke="#000" stroke-width="1.3"/>
<line x1="391" y1="361.26" x2="395" y2="361.26" stroke="#000" stroke-width="1.3"/>
<line x1="652.5" y1="361.26" x2="650.5" y2="361.26" stroke="#000" stroke-width="1.3"/>
<line x1="391" y1="399.9" x2="395" y2="399.9" stroke="#000" stroke-width="1.3"/>
<line x1="652.5" y1="399.9" x2="650.5" y2="399.9" stroke="#000" stroke-width="1.3"/>
<line x1="391" y1="438.54" x2="395" y2="438.54" stroke="#000" stroke-width="1.3"/>
<line x1="652.5" y1="438.54" x2="650.5" y2="438.54" stroke="#000" stroke-width="1.3"/>
<line x1="391" y1="477.18" x2="395" y2="477.18" stroke="#000" stroke-width="1.3"/>
<line x1="652.5" y1="477.18" x2="650.5" y2="477.18" stroke="#000" stroke-width="1.3"/>
<text x="382" y="305.9" font-size="10.7" font-family='"Liberation Sans", sans-serif' font-weight="bold" text-anchor="end" fill="#000" >-12</text>
<text x="382" y="344.54" font-size="10.7" font-family='"Liberation Sans", sans-serif' font-weight="bold" text-anchor="end" fill="#000" >-13</text>
<text x="382" y="383.18" font-size="10.7" font-family='"Liberation Sans", sans-serif' font-weight="bold" text-anchor="end" fill="#000" >-14</text>
<text x="382" y="421.82" font-size="10.7" font-family='"Liberation Sans", sans-serif' font-weight="bold" text-anchor="end" fill="#000" >-15</text>
<text x="382" y="460.46" font-size="10.7" font-family='"Liberation Sans", sans-serif' font-weight="bold" text-anchor="end" fill="#000" >-16</text>
<text x="391" y="493.6" font-size="10.7" font-family='"Liberation Sans", sans-serif' font-weight="bold" text-anchor="middle" fill="#000" >0.80</text>
<text x="431.25" y="493.6" font-size="10.7" font-family='"Liberation Sans", sans-serif' font-weight="bold" text-anchor="middle" fill="#000" >0.85</text>
<text x="471.5" y="493.6" font-size="10.7" font-family='"Liberation Sans", sans-serif' font-weight="bold" text-anchor="middle" fill="#000" >0.90</text>
<text x="511.75" y="493.6" font-size="10.7" font-family='"Liberation Sans", sans-serif' font-weight="bold" text-anchor="middle" fill="#000" >0.95</text>
<text x="552" y="493.6" font-size="10.7" font-family='"Liberation Sans", sans-serif' font-weight="bold" text-anchor="middle" fill="#000" >1.00</text>
<text x="592.25" y="493.6" font-size="10.7" font-family='"Liberation Sans", sans-serif' font-weight="bold" text-anchor="middle" fill="#000" >1.05</text>
<text x="632.5" y="493.6" font-size="10.7" font-family='"Liberation Sans", sans-serif' font-weight="bold" text-anchor="middle" fill="#000" >1.10</text>
<text x="521.7" y="510.2" font-size="15.4" font-family='"Liberation Sans", sans-serif' text-anchor="middle" fill="#000" textLength="37.6" lengthAdjust="spacingAndGlyphs">ln (V)</text>
<text transform="translate(361,391.3) rotate(-90)" font-size="15.2" font-family='"Liberation Sans", sans-serif' text-anchor="middle">ln (I)</text>
<text x="390.3" y="276.6" font-size="22.4" font-family='"Liberation Sans", sans-serif' font-weight="bold" text-anchor="start" fill="#000" >(d)</text>
<path d="M415.1,304h5.61v2.39h-1.25v9.71h1.25v2.39h-5.61v-2.39h1.25v-9.71h-1.25z M421.41,304h5.61v2.39h-1.25v9.71h1.25v2.39h-5.61v-2.39h1.25v-9.71h-1.25z" fill="#000"/>
<line x1="417.1" y1="451" x2="632.6" y2="298.7" stroke="#000" stroke-width="2.2"/>
<rect x="413.1" y="461.3" width="8" height="8" fill="#ff0000"/>
<rect x="447.7" y="424.3" width="8" height="8" fill="#ff0000"/>
<rect x="480.3" y="388.9" width="8" height="8" fill="#ff0000"/>
<rect x="512.1" y="369" width="8" height="8" fill="#ff0000"/>
<rect x="542.3" y="342.8" width="8" height="8" fill="#ff0000"/>
<rect x="572.1" y="327.3" width="8" height="8" fill="#ff0000"/>
<rect x="600" y="317.4" width="8" height="8" fill="#ff0000"/>
<rect x="627.8" y="310.2" width="8" height="8" fill="#ff0000"/>
<text x="543.2" y="396.1" font-size="14.5" font-family='"Liberation Sans", sans-serif' font-weight="bold" text-anchor="start" fill="#000" textLength="94.7" lengthAdjust="spacingAndGlyphs">Slope ~14.69</text>
</svg>
</body></html>
